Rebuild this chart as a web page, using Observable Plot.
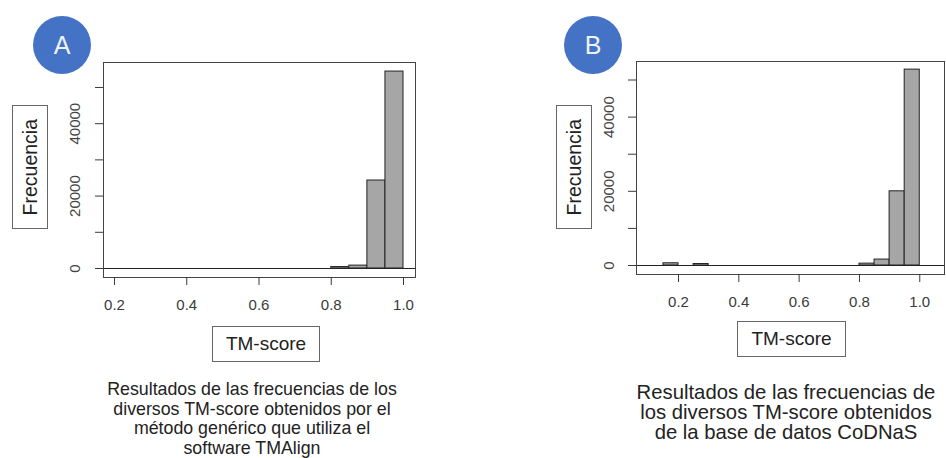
<!DOCTYPE html>
<html>
<head>
<meta charset="utf-8">
<script src="https://cdn.jsdelivr.net/npm/d3@7"></script>
<script src="https://cdn.jsdelivr.net/npm/@observablehq/plot@0.6"></script>
<style>
  html, body { margin: 0; padding: 0; background: #fff; overflow: hidden; }
  #wrap { position: relative; width: 946px; height: 458px; background: #fff;
          font-family: "Liberation Sans", Arial, sans-serif; color: #222; }
  .panel { position: absolute; top: 0; }
  .badge { position: absolute; width: 58px; height: 58px; border-radius: 50%;
           background: #4472c4; color: #eef2fa; font-size: 25px; display: flex;
           align-items: center; justify-content: center; }
  .box { position: absolute; border: 1px solid #666; box-sizing: border-box;
         display: flex; align-items: center; justify-content: center; background: #fff; }
  .vert { writing-mode: vertical-rl; transform: rotate(180deg); font-size: 19.5px; }
  .hbox { font-size: 19px; }
  .caption { position: absolute; text-align: center; white-space: nowrap; color: #222; }
</style>
</head>
<body>
<div id="wrap">
  <div id="pA" class="panel" style="left:0"></div>
  <div id="pB" class="panel" style="left:473px"></div>

  <div class="badge" style="left:33px; top:16px">A</div>
  <div class="badge" style="left:564px; top:16px">B</div>

  <div class="box" style="left:12px; top:105px; width:36px; height:124px"><span class="vert">Frecuencia</span></div>
  <div class="box" style="left:556px; top:105px; width:36px; height:124px"><span class="vert">Frecuencia</span></div>

  <div class="box hbox" style="left:212px; top:326px; width:108px; height:36px">TM-score</div>
  <div class="box hbox" style="left:737px; top:321px; width:109px; height:36px">TM-score</div>

  <div class="caption" style="left:52px; width:400px; top:380px; font-size:17.8px; line-height:19.5px">
    Resultados de las frecuencias de los<br>diversos TM-score obtenidos por el<br>método genérico que utiliza el<br>software TMAlign
  </div>
  <div class="caption" style="left:586px; width:400px; top:382px; font-size:20.3px; line-height:20px">
    Resultados de las frecuencias de<br>los diversos TM-score obtenidos<br>de la base de datos CoDNaS
  </div>
</div>
<script>
// ---- data ----
const binWidth = 0.05;
const binStartsA = [0.80, 0.85, 0.90, 0.95];
const countsA    = [400, 800, 24300, 54400];
const binStartsB = [0.15, 0.25, 0.80, 0.85, 0.90, 0.95];
const countsB    = [600, 400, 500, 1600, 20000, 52800];
const xTicks = [0.2, 0.4, 0.6, 0.8, 1.0];
const yTicks = [0, 10000, 20000, 30000, 40000, 50000];
const yLabels = [0, 20000, 40000];

function hist(starts, counts, opts) {
  const data = starts.map((s, i) => ({x0: s, x1: s + binWidth, count: counts[i]}));
  return Plot.plot({
    width: 473,
    height: 458,
    marginLeft: opts.ml, marginRight: opts.mr, marginTop: opts.mt, marginBottom: opts.mb,
    style: {background: "transparent", fontFamily: "'Liberation Sans', Arial, sans-serif", color: "#3a3a3a", overflow: "visible"},
    x: {domain: opts.xd, axis: null},
    y: {domain: opts.yd, axis: null},
    marks: [
      Plot.rectY(data, {x1: "x0", x2: "x1", y: "count", fill: "#a6a6a6", stroke: "#222", strokeWidth: 1}),
      Plot.ruleY([0], {stroke: "#222", strokeWidth: 1}),
      Plot.frame({stroke: "#444", strokeWidth: 1}),
      Plot.axisX({ticks: xTicks, tickSize: 8, tickPadding: 14, fontSize: 15, tickFormat: d3.format(".1f"), label: null}),
      Plot.axisY({ticks: yTicks, tickSize: 8, tickFormat: () => "", label: null}),
      Plot.text(yLabels, {y: d => d, text: d => String(d), frameAnchor: "left", dx: opts.ylx,
                          rotate: -90, textAnchor: "middle", fontSize: 15, fill: "#444"})
    ]
  });
}

document.getElementById("pA").append(hist(binStartsA, countsA, {
  ml: 103, mr: 58, mt: 62, mb: 181, xd: [0.1695, 1.0332], yd: [-2486, 56900], ylx: -28
}));
document.getElementById("pB").append(hist(binStartsB, countsB, {
  ml: 163, mr: 2, mt: 61, mb: 184, xd: [0.0607, 1.082], yd: [-2426, 54990], ylx: -27
}));
</script>
</body>
</html>
